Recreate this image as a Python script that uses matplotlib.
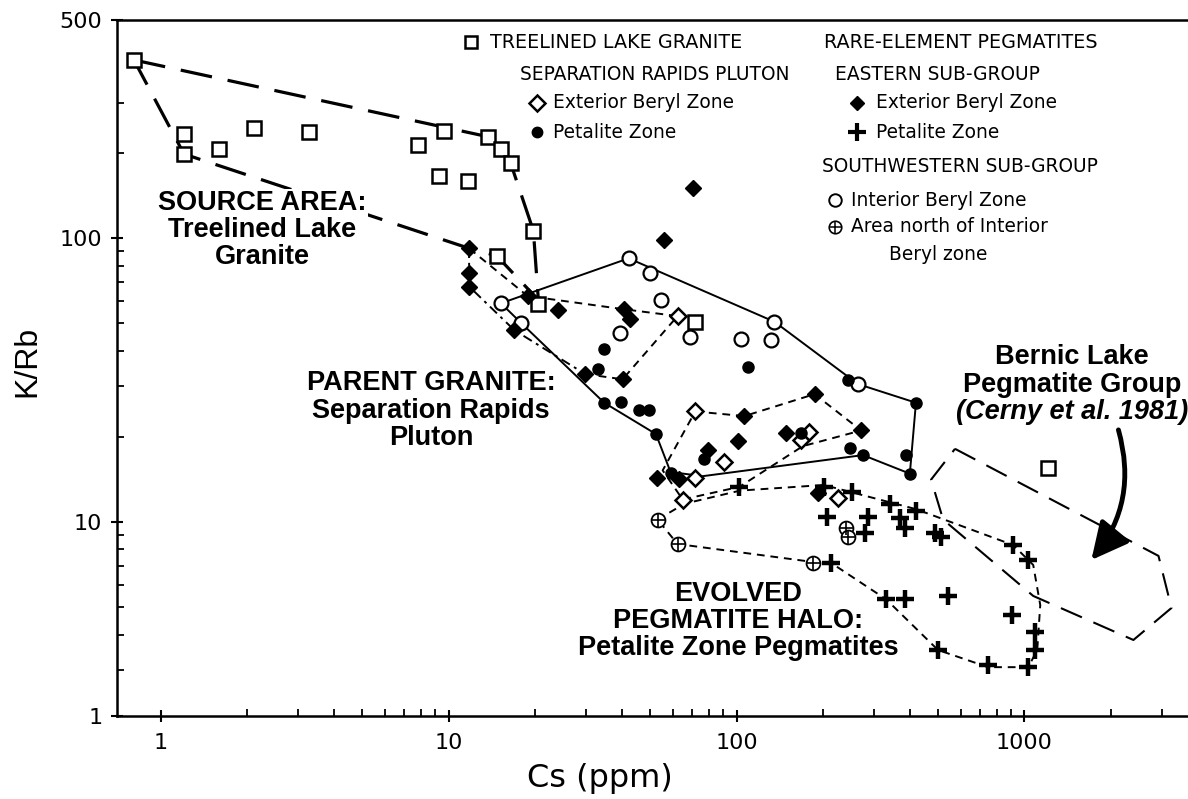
import numpy as np
import matplotlib
matplotlib.use("Agg")
import matplotlib.pyplot as plt
from matplotlib.ticker import FixedLocator, FixedFormatter, NullFormatter
from matplotlib.patches import FancyArrowPatch, ArrowStyle
from matplotlib.lines import Line2D

# ---------------------------------------------------------------- data
# Treelined Lake Granite
tl_cs = [0.807, 1.205, 1.205, 1.595, 2.112, 3.265, 7.82, 9.63, 9.25, 11.67,
         13.70, 15.16, 16.42, 19.70, 14.68, 20.5, 71.9, 1210]
tl_krb = [391, 234, 198, 206, 245, 236, 213, 238, 165, 159,
          228, 206, 184, 106, 86.6, 58.6, 50.7, 15.5]

# Separation Rapids Pluton - Exterior Beryl Zone
srx_cs = [62.4, 71.5, 90.3, 167, 178, 71.5, 65.0, 225]
srx_krb = [53.1, 24.5, 16.3, 19.4, 20.7, 14.3, 12.0, 12.1]

# Separation Rapids Pluton - Petalite Zone
srp_cs = [34.7, 33.1, 34.7, 39.6, 45.9, 49.5, 110, 52.5, 77.3, 59.2,
          168, 247, 275, 244, 400, 388, 420]
srp_krb = [40.6, 34.7, 26.3, 26.5, 24.7, 24.7, 35.2, 20.4, 16.7, 14.9,
           20.5, 18.2, 17.2, 31.6, 14.8, 17.2, 26.3]

# Rare-element pegmatites, eastern sub-group - Exterior Beryl Zone
ebx_cs = [70.4, 56.1, 11.8, 11.8, 11.8, 18.8, 23.9, 40.7, 42.7, 16.9, 29.8,
          40.2, 106.5, 101, 79.4, 148.7, 186.7, 271, 53.0, 62.9, 192]
ebx_krb = [150, 98.0, 92.0, 75.1, 67.4, 62.5, 55.8, 56.1, 51.7, 47.4, 33.2,
           31.8, 23.6, 19.3, 17.9, 20.5, 28.2, 21.0, 14.3, 14.2, 12.6]

# Rare-element pegmatites, eastern sub-group - Petalite Zone
ept_cs = [102, 201, 252, 340, 421, 369, 384, 488, 515, 206, 286, 279,
          213, 331, 384, 543, 902, 914, 1031, 1088, 1088, 1031, 748, 501]
ept_krb = [13.3, 13.3, 12.8, 11.6, 10.9, 10.3, 9.50, 9.17, 8.83, 10.4, 10.4, 9.17,
           7.18, 5.33, 5.33, 5.48, 4.69, 8.29, 7.34, 4.10, 3.53, 3.08, 3.12, 3.53]

# Rare-element pegmatites, southwestern sub-group - Interior Beryl Zone
swi_cs = [42.2, 50.0, 15.2, 17.9, 54.6, 39.4, 68.9, 103.7, 131.9, 135.5, 264]
swi_krb = [84.8, 75.1, 58.9, 50.1, 60.5, 46.4, 44.9, 44.0, 43.7, 50.7, 30.6]

# Southwestern sub-group - area north of Interior Beryl zone
swn_cs = [53.2, 62.4, 185, 240, 244]
swn_krb = [10.2, 8.36, 7.19, 9.52, 8.85]

# Field envelopes
env_source_cs = [0.807, 13.70, 15.16, 16.42, 19.70, 20.5, 14.68, 11.77, 1.205, 0.807]
env_source_krb = [391, 228, 206, 184, 106, 60.5, 86.6, 92.0, 198, 391]

env_parent_cs = [15.2, 42.2, 135.5, 264, 420, 400, 275, 76.3, 59.0, 52.5, 34.7, 17.9, 15.2]
env_parent_krb = [58.9, 84.8, 50.7, 30.6, 26.3, 14.8, 17.2, 14.5, 15.0, 20.4, 26.3, 50.1, 58.9]

# eastern exterior-beryl field: dash-dot western side, dashed remainder
env_east_a_west_cs = [11.77, 11.8, 16.9, 29.8]
env_east_a_west_krb = [92.0, 67.4, 47.4, 33.2]
env_east_a_rest_cs = [29.8, 40.2, 62.4, 40.7, 18.8, 11.77]
env_east_a_rest_krb = [33.2, 31.8, 53.1, 56.1, 62.5, 92.0]

env_east_b_cs = [71.9, 106.5, 186.7, 271, 170, 102.4, 65.0, 55.4, 71.9]
env_east_b_krb = [24.5, 23.6, 28.2, 21.0, 18.5, 13.3, 12.0, 15.2, 24.5]

env_halo_cs = [53.2, 66.0, 103.0, 201, 420, 914, 1073, 1135, 1108, 1031,
               748, 501, 331, 213, 185, 62.4, 53.2]
env_halo_krb = [10.2, 11.6, 12.9, 13.5, 11.1, 8.29, 7.05, 5.09, 3.53, 3.07,
                3.07, 3.53, 5.33, 7.17, 7.22, 8.36, 10.2]

env_bernic_cs = [574, 2922, 3242, 2391, 1073, 522, 474, 574]
env_bernic_krb = [18.1, 7.59, 4.97, 3.83, 5.48, 10.2, 14.1, 18.1]

# Axis ticks
x_major = [1, 10, 100, 1000]
x_major_labels = ["1", "10", "100", "1000"]
y_major = [1, 10, 100, 500]
y_major_labels = ["1", "10", "100", "500"]
y_minor = [3, 4, 5, 6, 7, 8, 9, 20, 30, 40, 50, 60, 70, 80, 90, 200, 300]

# ---------------------------------------------------------------- K/Rb axis
# The K/Rb axis of this diagram is drawn with unequal decades; it is built
# as a piecewise-logarithmic scale through these anchor values.
KRB_KNOTS = np.log10([1, 3, 10, 100, 300, 500])
KRB_STRETCH = np.array([0.0, 46.0, 194.0, 478.0, 613.0, 696.0])


def _pwl(x, xp, fp):
    x = np.asarray(x, dtype=float)
    y = np.interp(x, xp, fp)
    y = np.where(x < xp[0], fp[0] + (x - xp[0]) * (fp[1] - fp[0]) / (xp[1] - xp[0]), y)
    y = np.where(x > xp[-1], fp[-1] + (x - xp[-1]) * (fp[-1] - fp[-2]) / (xp[-1] - xp[-2]), y)
    return y


def krb_forward(v):
    v = np.asarray(v, dtype=float)
    return _pwl(np.log10(np.clip(v, 1e-12, None)), KRB_KNOTS, KRB_STRETCH)


def krb_inverse(t):
    return 10.0 ** _pwl(t, KRB_STRETCH, KRB_KNOTS)


# ---------------------------------------------------------------- figure
W, H = 1188, 799
fig = plt.figure(figsize=(W / 100, H / 100), dpi=100)
ax = fig.add_axes([117 / W, (H - 716) / H, (W - 117) / W, 696 / H])

ax.set_xscale("log")
ax.set_yscale("function", functions=(krb_forward, krb_inverse))
ax.set_xlim(0.705, 3700)
ax.set_ylim(1, 500)

for side in ("left", "bottom", "top"):
    ax.spines[side].set_linewidth(1.8)
ax.spines["right"].set_visible(False)

ax.xaxis.set_major_locator(FixedLocator(x_major))
ax.xaxis.set_major_formatter(FixedFormatter(x_major_labels))
x_minor = [m * d for d in (1, 10, 100, 1000) for m in range(2, 10) if m * d < 3700]
ax.xaxis.set_minor_locator(FixedLocator(x_minor))
ax.xaxis.set_minor_formatter(NullFormatter())

ax.yaxis.set_major_locator(FixedLocator(y_major))
ax.yaxis.set_major_formatter(FixedFormatter(y_major_labels))
ax.yaxis.set_minor_locator(FixedLocator(y_minor))
ax.yaxis.set_minor_formatter(NullFormatter())

ax.tick_params(which="major", direction="inout", length=9, width=1.5,
               labelsize=16, top=False, right=False)
ax.tick_params(which="minor", direction="in", length=5, width=1.3,
               top=False, right=False)
ax.tick_params(axis="x", which="major", pad=8)
ax.tick_params(axis="y", which="major", pad=6)
for lab in ax.get_xticklabels() + ax.get_yticklabels():
    lab.set_family("DejaVu Sans")

fig.text(27 / W, 1 - 361 / H, "K/Rb", rotation=90, ha="center", va="center",
         fontsize=23, family="Liberation Sans")
fig.text(600 / W, 1 - 778 / H, "Cs (ppm)", ha="center", va="center",
         fontsize=23, family="DejaVu Sans")

# ---------------------------------------------------------------- envelopes
ax.plot(env_source_cs, env_source_krb, color="black", lw=2.3,
        dashes=(10, 5), zorder=2)
ax.plot(env_parent_cs, env_parent_krb, color="black", lw=1.4, zorder=2)
ax.plot(env_east_a_west_cs, env_east_a_west_krb, color="black", lw=1.4,
        dashes=(5, 2.5, 1.5, 2.5), zorder=2)
ax.plot(env_east_a_rest_cs, env_east_a_rest_krb, color="black", lw=1.4,
        dashes=(4, 3), zorder=2)
ax.plot(env_east_b_cs, env_east_b_krb, color="black", lw=1.4,
        dashes=(4, 3), zorder=2)
ax.plot(env_halo_cs, env_halo_krb, color="black", lw=1.4,
        dashes=(4, 3), zorder=2)
ax.plot(env_bernic_cs, env_bernic_krb, color="black", lw=1.5,
        dashes=(11, 6), zorder=2)

# ---------------------------------------------------------------- samples
ax.plot(tl_cs, tl_krb, ls="none", marker="s", ms=9.5, mfc="white",
        mec="black", mew=1.8, zorder=4)
ax.plot(srx_cs, srx_krb, ls="none", marker="D", ms=8.5, mfc="white",
        mec="black", mew=1.8, zorder=4)
ax.plot(srp_cs, srp_krb, ls="none", marker="o", ms=8, color="black", zorder=5)
ax.plot(ebx_cs, ebx_krb, ls="none", marker="D", ms=8.3, color="black", zorder=5)
ax.plot(ept_cs, ept_krb, ls="none", marker="+", ms=13, mew=3.2,
        color="black", zorder=5)
ax.plot(swi_cs, swi_krb, ls="none", marker="o", ms=10, mfc="white",
        mec="black", mew=1.6, zorder=4)
ax.plot(swn_cs, swn_krb, ls="none", marker="o", ms=10, mfc="white",
        mec="black", mew=1.3, zorder=4)
ax.plot(swn_cs, swn_krb, ls="none", marker="+", ms=10, mew=1.2,
        color="black", zorder=4)

# ---------------------------------------------------------------- field labels
def fig_xy(px, py):
    return px / W, 1 - py / H


def label_block(cx, rows, size=19.5):
    for py, txt, sty in rows:
        ax.text(*fig_xy(cx, py), txt, transform=fig.transFigure,
                ha="center", va="center", fontsize=size, fontweight="bold",
                style=sty, family="Liberation Sans", zorder=3, clip_on=False,
                bbox=dict(facecolor="white", edgecolor="none", pad=1.0))


label_block(262, [(203, "SOURCE AREA:", "normal"),
                  (230, "Treelined Lake", "normal"),
                  (257, "Granite", "normal")])
label_block(431, [(383, "PARENT GRANITE:", "normal"),
                  (411, "Separation Rapids", "normal"),
                  (438, "Pluton", "normal")])
label_block(738, [(594, "EVOLVED", "normal"),
                  (621, "PEGMATITE HALO:", "normal"),
                  (648, "Petalite Zone Pegmatites", "normal")])
label_block(1072, [(357, "Bernic Lake", "normal"),
                   (385, "Pegmatite Group", "normal"),
                   (412, "(Cerny et al. 1981)", "italic")])

arrow = FancyArrowPatch((2121, 21.1), (1708, 7.34),
                        connectionstyle="arc3,rad=-0.26",
                        arrowstyle=ArrowStyle("-|>", head_length=1.5, head_width=0.75),
                        mutation_scale=15, lw=3.5, color="black",
                        shrinkA=0, shrinkB=0, zorder=6)
ax.add_patch(arrow)

# ---------------------------------------------------------------- key
key_font = dict(family="DejaVu Sans", va="center", ha="left")


def key_marker(px, py, **kw):
    fig.add_artist(Line2D([px / W], [1 - py / H], ls="none", color="black", **kw))


key_marker(471, 42, marker="s", ms=9, mfc="white", mec="black", mew=1.8)
fig.text(*fig_xy(490, 42), "TREELINED LAKE GRANITE", fontsize=13.8, **key_font)
fig.text(*fig_xy(520, 74), "SEPARATION RAPIDS PLUTON", fontsize=13.4, **key_font)
key_marker(537, 103, marker="D", ms=8, mfc="white", mec="black", mew=1.8)
fig.text(*fig_xy(553, 103), "Exterior Beryl Zone", fontsize=13.4, **key_font)
key_marker(537, 132, marker="o", ms=7.5)
fig.text(*fig_xy(553, 132), "Petalite Zone", fontsize=13.4, **key_font)

fig.text(*fig_xy(824, 42), "RARE-ELEMENT PEGMATITES", fontsize=13.8, **key_font)
fig.text(*fig_xy(835, 74), "EASTERN SUB-GROUP", fontsize=13.4, **key_font)
key_marker(857, 103, marker="D", ms=7.5)
fig.text(*fig_xy(876, 103), "Exterior Beryl Zone", fontsize=13.4, **key_font)
key_marker(857, 132, marker="+", ms=13, mew=3.0)
fig.text(*fig_xy(876, 132), "Petalite Zone", fontsize=13.4, **key_font)
fig.text(*fig_xy(822, 167), "SOUTHWESTERN SUB-GROUP", fontsize=13.4, **key_font)
key_marker(835, 200, marker="o", ms=9, mfc="white", mec="black", mew=1.4)
fig.text(*fig_xy(851, 200), "Interior Beryl Zone", fontsize=13.4, **key_font)
key_marker(835, 227, marker="o", ms=9, mfc="white", mec="black", mew=1.2)
key_marker(835, 227, marker="+", ms=9, mew=1.1)
fig.text(*fig_xy(851, 227), "Area north of Interior", fontsize=13.4, **key_font)
fig.text(*fig_xy(889, 254), "Beryl zone", fontsize=13.4, **key_font)

fig.savefig("out.png", dpi=100)
